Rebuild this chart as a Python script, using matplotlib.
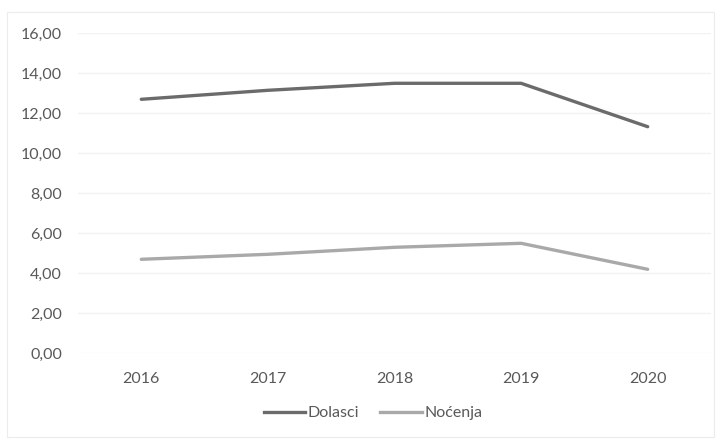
import matplotlib
matplotlib.use("Agg")
import matplotlib.pyplot as plt
from matplotlib.patches import Rectangle
from matplotlib.lines import Line2D

years = ["2016", "2017", "2018", "2019", "2020"]
dolasci = [12.70, 13.15, 13.50, 13.50, 11.33]
nocenja = [4.70, 4.95, 5.30, 5.50, 4.20]
yticks = [0, 2, 4, 6, 8, 10, 12, 14, 16]
ytick_labels = ["0,00", "2,00", "4,00", "6,00", "8,00", "10,00", "12,00", "14,00", "16,00"]
series_names = ["Dolasci", "Noćenja"]

plt.rcParams['font.family'] = ['Lato', 'DejaVu Sans']

fig = plt.figure(figsize=(7.24, 4.41), dpi=100)
fig.patch.set_facecolor("white")
# chart area border
fig.add_artist(Rectangle((7/724, 1-437/441), 707/724, 425/441, transform=fig.transFigure,
                         fill=False, edgecolor="#ececec", linewidth=0.8))

ax = fig.add_axes([78/724, 1-353.3/441, 633/724, 320/441])
x = list(range(len(years)))
c1, c2 = "#6b6b6b", "#a9a9a9"
ax.plot(x, dolasci, color=c1, linewidth=2.4, solid_capstyle="round", label=series_names[0], zorder=3)
ax.plot(x, nocenja, color=c2, linewidth=2.4, solid_capstyle="round", label=series_names[1], zorder=3)

ax.set_xlim(-0.5, len(years) - 0.5)
ax.set_ylim(0, 16)
ax.set_yticks(yticks)
ax.set_yticklabels(ytick_labels)
ax.set_xticks(x)
ax.set_xticklabels(years)
ax.grid(axis="y", color="#f2f2f2", linewidth=1.0, zorder=0)
ax.set_axisbelow(True)
for s in ax.spines.values():
    s.set_visible(False)
ax.tick_params(axis="both", length=0, labelsize=11.5, labelcolor="#595959")
ax.tick_params(axis="y", pad=11.5)
ax.tick_params(axis="x", pad=13.5)

leg = fig.legend(handles=[Line2D([], [], color=c1, lw=2.4), Line2D([], [], color=c2, lw=2.4)],
                 labels=series_names, loc="center", bbox_to_anchor=(373/724, 1-413/441),
                 ncol=2, frameon=False, fontsize=11.5, handlelength=2.6, handletextpad=0.15,
                 columnspacing=1.3)
for t in leg.get_texts():
    t.set_color("#595959")

fig.savefig("out.png", dpi=100, facecolor="white")
